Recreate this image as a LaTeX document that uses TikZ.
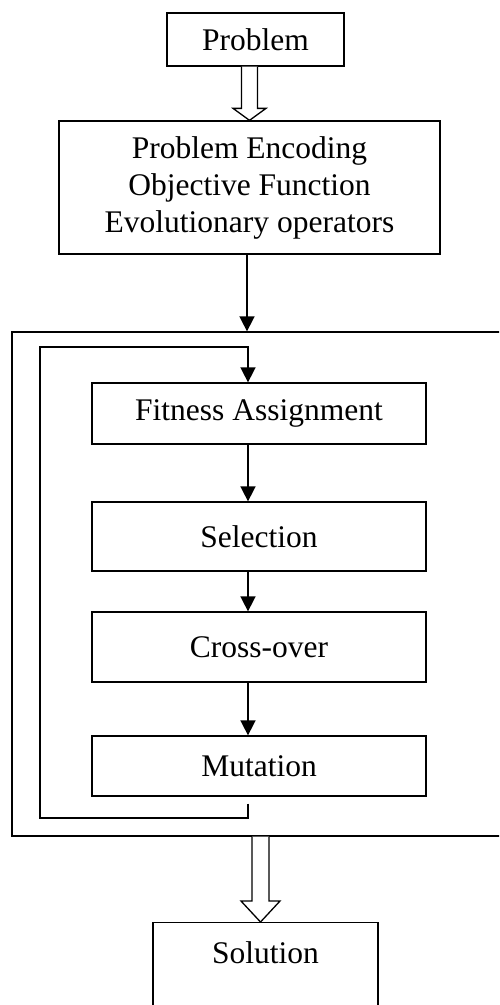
\documentclass[tikz,border=0pt]{standalone}
\usepackage{fontspec}
\setmainfont{Liberation Serif}
\usetikzlibrary{arrows.meta,calc}
\begin{document}
\begin{tikzpicture}[x=1pt,y=-1pt,
  box/.style={draw,line width=1.3pt,rectangle,inner sep=0pt,align=center,
    font=\fontsize{31.5}{37}\selectfont},
  conn/.style={line width=1.6pt,-{Triangle[length=15pt,width=15pt]}},
  hollow/.style={draw,line width=1.3pt,fill=white,line join=miter}]
\useasboundingbox (0,0) rectangle (499,1005);
\clip (0,0) rectangle (499,1005);
% nodes
\node[box,minimum width=177pt,minimum height=53pt] (prob) at (255.5,39.5) {Problem};
\node[box,minimum width=381pt,minimum height=133pt] (enc) at (249.5,187.5)
  {Problem Encoding\\Objective Function\\Evolutionary operators};
\node[draw,line width=1.3pt,rectangle,inner sep=0pt,minimum width=500pt,minimum height=504pt] (outer) at (262,584) {};
\node[box,minimum width=334pt,minimum height=61pt] (fit) at (259,413.5) {Fitness Assignment};
\node[box,minimum width=334pt,minimum height=69pt] (sel) at (259,536.5) {Selection};
\node[box,minimum width=334pt,minimum height=70pt] (cro) at (259,647) {Cross-over};
\node[box,minimum width=334pt,minimum height=60pt] (mut) at (259,766) {Mutation};
\node[box,anchor=north,minimum width=225pt,text height=41pt,text depth=70pt] (sol) at (265.5,922) {Solution};
% column coordinates
\coordinate (cx) at (248,0);
\coordinate (ex) at (247,0);
\coordinate (lb) at (40,818);
\coordinate (lt) at (40,347);
\coordinate (t2) at (260.5,922);
% hollow arrow Problem -> Encoding
\coordinate (a1l) at ($(enc.north)+(-8,0)$);
\coordinate (a1r) at ($(enc.north)+(8,0)$);
\path[hollow] (a1l |- prob.south) -- ($(enc.north)+(-8,-12)$)
  -- ($(enc.north)+(-16.5,-12)$) -- (enc.north) -- ($(enc.north)+(16.5,-12)$)
  -- ($(enc.north)+(8,-12)$) -- (a1r |- prob.south);
% Encoding -> outer box
\draw[conn] (enc.south -| ex) -- (outer.north -| ex);
% inner chain
\draw[conn] (fit.south -| cx) -- (sel.north -| cx);
\draw[conn] (sel.south -| cx) -- (cro.north -| cx);
\draw[conn] (cro.south -| cx) -- (mut.north -| cx);
% loop
\draw[conn,line join=miter] ($(mut.south -| cx)+(0,7)$) -- (lb -| cx) -- (lb) -- (lt) -- (lt -| cx) -- (fit.north -| cx);
% hollow arrow outer -> Solution
\coordinate (a2l) at ($(t2)+(-8.5,0)$);
\coordinate (a2r) at ($(t2)+(8.5,0)$);
\path[hollow] (a2l |- outer.south) -- ($(t2)+(-8.5,-21)$)
  -- ($(t2)+(-19.5,-21)$) -- (t2) -- ($(t2)+(19.5,-21)$)
  -- ($(t2)+(8.5,-21)$) -- (a2r |- outer.south);
\end{tikzpicture}
\end{document}
